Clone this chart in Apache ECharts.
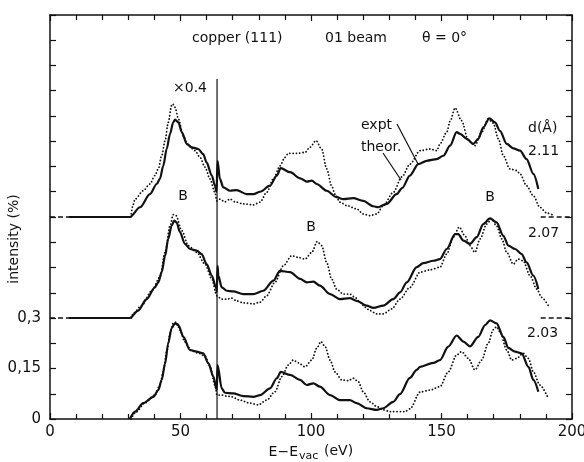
<!DOCTYPE html>
<html>
<head>
<meta charset="utf-8">
<script src="https://cdn.jsdelivr.net/npm/echarts@6/dist/echarts.min.js"></script>
<style>
	html, body { margin: 0; padding: 0; background: #fff; }
	#chart { width: 584px; height: 462px; }
</style>
</head>
<body>
<div id="chart"></div>
<script>
// d (Å) of each curve pair and the vertical offset it is drawn at
var spacings = ['2.11', '2.07', '2.03'];
var offsets = [0.6, 0.3, 0];

// [E - Evac (eV), intensity (%)] relative to the own baseline
var expt211 = [[7,0],[30.6,0],[34.5,0.029],[38.3,0.068],[40.9,0.098],[42.1,0.113],[43.4,0.152],[44.7,0.202],[46,0.247],[47.2,0.281],[47.9,0.289],[49.2,0.281],[50.5,0.252],[52.4,0.217],[54.3,0.207],[56.8,0.202],[58.7,0.187],[60,0.162],[62,0.123],[63.2,0.093],[63.8,0.075],[64.2,0.167],[65.1,0.113],[66.4,0.088],[69,0.078],[71.5,0.08],[75.4,0.068],[77.9,0.068],[80.5,0.075],[84.3,0.093],[86.9,0.123],[88.4,0.145],[92,0.133],[95.8,0.115],[98.4,0.105],[100.3,0.108],[102.2,0.098],[106,0.078],[109.8,0.059],[112.4,0.053],[116.2,0.056],[120,0.048],[123.9,0.032],[125.7,0.029],[129,0.039],[132.8,0.068],[134.9,0.086],[137.9,0.123],[141.1,0.157],[144.3,0.167],[148.2,0.172],[150.7,0.182],[153.3,0.212],[155.8,0.252],[157.1,0.247],[159.7,0.232],[162.2,0.217],[164.1,0.232],[166,0.266],[168.3,0.293],[170.5,0.281],[172.4,0.256],[175,0.217],[177.5,0.204],[180.1,0.197],[182.6,0.172],[185.2,0.128],[187.1,0.083]];
var theor211 = [[31,0],[31.8,0.036],[32.6,0.053],[35.7,0.078],[38.3,0.098],[40.2,0.123],[41.5,0.143],[42.8,0.182],[44.1,0.227],[45.3,0.281],[46.6,0.331],[47,0.336],[47.9,0.326],[49.2,0.291],[51.1,0.241],[53,0.212],[55.6,0.197],[57.5,0.177],[59.4,0.148],[61.3,0.113],[63.2,0.073],[63.9,0.048],[65.1,0.053],[67,0.045],[69,0.053],[70.9,0.045],[74.1,0.039],[77.9,0.036],[80.5,0.044],[83,0.073],[85.6,0.113],[88.1,0.152],[90,0.177],[91.3,0.189],[94.5,0.189],[97.7,0.192],[99.6,0.207],[101.9,0.227],[104.1,0.202],[106,0.143],[107.9,0.093],[109.2,0.068],[111.1,0.044],[113.7,0.034],[117.5,0.024],[120,0.009],[122.6,0.004],[125.2,0.009],[127.7,0.034],[131.5,0.073],[134.8,0.119],[137.9,0.157],[141.8,0.197],[145.6,0.202],[148.2,0.197],[149.4,0.217],[152,0.252],[153.3,0.285],[155.2,0.324],[157.7,0.286],[160.3,0.227],[162.8,0.212],[165.4,0.252],[167.9,0.291],[169.8,0.279],[171.8,0.232],[173.7,0.182],[176.2,0.143],[178.8,0.138],[180.1,0.128],[182.6,0.093],[185.2,0.063],[187.7,0.029],[190.3,0.012],[192.7,0.006]];

var expt207 = [[7,0],[30.6,0],[33.8,0.022],[37,0.056],[40.2,0.091],[41.5,0.106],[42.8,0.136],[44.1,0.185],[45.3,0.235],[46.6,0.274],[47.6,0.289],[48.5,0.284],[49.8,0.255],[51.7,0.22],[53.6,0.205],[56.2,0.2],[58.1,0.19],[60,0.16],[62,0.126],[63.6,0.091],[63.9,0.077],[64.2,0.155],[64.5,0.126],[65.8,0.091],[67.7,0.081],[70.2,0.079],[74.1,0.071],[77.9,0.071],[81.7,0.081],[85.6,0.111],[88.1,0.14],[92,0.136],[95.8,0.116],[98.4,0.106],[100.9,0.108],[103.4,0.096],[107.3,0.071],[111.1,0.056],[114.9,0.059],[117.5,0.051],[121.3,0.037],[123.9,0.03],[127.7,0.037],[131.5,0.056],[134.1,0.076],[136.7,0.106],[140.5,0.151],[143,0.163],[146.9,0.17],[149.4,0.175],[152,0.205],[155.2,0.249],[156.4,0.249],[158.4,0.23],[160.9,0.22],[163.5,0.24],[166,0.279],[168.6,0.296],[171.1,0.284],[173.7,0.244],[175.6,0.215],[178.2,0.205],[180.7,0.19],[182.6,0.165],[185.2,0.126],[187.1,0.086]];
var theor207 = [[31.2,0],[32,0.015],[35.1,0.037],[39,0.081],[42.1,0.121],[44.1,0.195],[46,0.274],[47.2,0.307],[48.3,0.304],[50.5,0.259],[53,0.215],[56.2,0.195],[59.4,0.16],[62,0.116],[63.9,0.066],[65.8,0.056],[67.7,0.056],[69.6,0.059],[71.5,0.051],[74.1,0.045],[77.9,0.042],[80.5,0.047],[83,0.066],[86.2,0.106],[89.4,0.155],[92.6,0.185],[95.1,0.18],[97.7,0.175],[100.3,0.195],[102.4,0.227],[104.1,0.215],[106,0.165],[107.9,0.116],[109.8,0.086],[112.4,0.071],[114.9,0.071],[116.9,0.061],[118.8,0.047],[120.7,0.032],[122.6,0.022],[125.2,0.012],[127.7,0.012],[130.9,0.027],[134.1,0.056],[137.9,0.091],[141.8,0.136],[145.6,0.143],[149.4,0.151],[152,0.19],[154.5,0.24],[156.8,0.27],[159,0.244],[160.9,0.215],[162.8,0.195],[164.8,0.235],[167.3,0.279],[169.2,0.294],[171.1,0.274],[173.1,0.235],[175,0.195],[177.5,0.16],[179.4,0.175],[181.3,0.17],[183.9,0.126],[186.5,0.086],[188.4,0.061],[190.9,0.037]];

var expt203 = [[30.6,0],[32.6,0.022],[35.7,0.047],[39.6,0.066],[41.5,0.086],[42.8,0.116],[44.1,0.165],[45.3,0.225],[46.6,0.27],[47.9,0.284],[49.2,0.279],[51.1,0.244],[53.6,0.205],[56.2,0.2],[58.7,0.195],[60.7,0.165],[62.6,0.126],[63.9,0.086],[64.2,0.16],[65.8,0.091],[67,0.078],[70.2,0.076],[74.1,0.068],[77.9,0.066],[80.5,0.071],[84.3,0.091],[86.9,0.121],[88.4,0.14],[92,0.131],[95.8,0.116],[98.4,0.101],[100.9,0.106],[103.4,0.096],[107.3,0.071],[111.1,0.056],[114.9,0.056],[117.5,0.047],[121.3,0.032],[125.2,0.027],[127.7,0.032],[131.5,0.051],[134.1,0.074],[137.9,0.122],[140.5,0.146],[141.8,0.155],[146.9,0.167],[149.4,0.175],[152.6,0.215],[155.8,0.248],[158.4,0.23],[160.9,0.216],[164.1,0.244],[166.7,0.279],[168.6,0.293],[171.1,0.284],[173.7,0.244],[175.6,0.211],[178.2,0.2],[180.7,0.195],[183.3,0.155],[185.2,0.116],[187.1,0.081]];
var theor203 = [[31,0],[33,0.021],[36.4,0.048],[40.2,0.071],[42.1,0.101],[43.4,0.14],[44.7,0.199],[46,0.255],[47.2,0.285],[48.5,0.288],[49.8,0.264],[51.7,0.229],[54.3,0.202],[56.8,0.196],[59.4,0.187],[61.3,0.157],[63.2,0.101],[64,0.071],[65.8,0.071],[67.7,0.068],[69.6,0.066],[72.8,0.056],[76.6,0.047],[79.8,0.042],[83,0.056],[86.2,0.081],[88.8,0.126],[91.3,0.16],[93.2,0.175],[95.1,0.167],[97.7,0.155],[100.3,0.175],[102.2,0.21],[103.8,0.23],[105.4,0.215],[107.3,0.175],[109.2,0.14],[111.8,0.116],[114.3,0.114],[116.2,0.121],[118.1,0.111],[120,0.081],[122.6,0.051],[125.2,0.037],[127.7,0.027],[130.3,0.022],[136,0.022],[137.9,0.03],[141.8,0.08],[145.6,0.086],[149.4,0.096],[152.6,0.14],[155.8,0.19],[157.7,0.2],[160.3,0.18],[162.8,0.146],[165.4,0.175],[167.9,0.225],[169.8,0.265],[171.1,0.274],[172.4,0.259],[175,0.205],[176.9,0.175],[178.8,0.18],[181.3,0.195],[183.3,0.18],[185.2,0.14],[187.7,0.101],[190.9,0.061]];

var exptCurves = [expt211, expt207, expt203];
var theorCurves = [theor211, theor207, theor203];

// dashed baseline stubs at left and right edge, E range
var dashLeft = [0, 7];
var dashRight = [188, 200];
// scale change marker (x0.4 left of it)
var scaleBreakE = 64;
var scaleBreakTop = 1.01;

var yLabels = {'0': '0', '0.15': '0,15', '0.3': '0,3'};

var font = 'DejaVu Sans';
var ink = '#111';

function shift(pts, off){
	return pts.map(function(p){ return [p[0], +(p[1] + off).toFixed(4)]; });
}

var series = [];
spacings.forEach(function(d, i){
	var off = offsets[i];
	series.push({
		name: 'expt ' + d,
		type: 'line',
		data: shift(exptCurves[i], off),
		showSymbol: false,
		smooth: 0.3,
		smoothMonotone: 'x',
		lineStyle: {color: ink, width: 2.2},
		z: 3
	});
	series.push({
		name: 'theor ' + d,
		type: 'line',
		data: shift(theorCurves[i], off),
		showSymbol: false,
		smooth: 0.3,
		smoothMonotone: 'x',
		lineStyle: {color: ink, width: 1.8, type: [0.1, 3.2], cap: 'round'},
		z: 2
	});
	if(off > 0){
		series.push({
			name: 'base ' + d,
			type: 'line',
			data: [[dashLeft[0], off], [dashLeft[1], off], [null, null], [dashRight[0], off], [dashRight[1], off]],
			connectNulls: false,
			showSymbol: false,
			lineStyle: {color: ink, width: 1.3, type: [5, 3]}
		});
	}
});
series.push({
	name: 'x0.4',
	type: 'line',
	data: [[scaleBreakE, 0], [scaleBreakE, scaleBreakTop]],
	showSymbol: false,
	lineStyle: {color: ink, width: 1.2}
});

var tickStyle = {color: ink, width: 1.2};
var frameLine = {show: true, onZero: false, lineStyle: {color: ink, width: 1.5}};

function xAx(pos, labels){
	return {
		type: 'value', position: pos, min: 0, max: 200, interval: 50,
		axisLine: frameLine,
		axisTick: {show: true, inside: true, length: 6, lineStyle: tickStyle},
		minorTick: {show: true, splitNumber: 5, length: 5, lineStyle: tickStyle},
		axisLabel: labels ? {color: ink, fontFamily: font, fontSize: 15, margin: 6} : {show: false},
		splitLine: {show: false}
	};
}
function yAx(pos, labels){
	return {
		type: 'value', position: pos, min: 0, max: 1.2, interval: 0.15,
		axisLine: frameLine,
		axisTick: {show: true, inside: true, length: 6, lineStyle: tickStyle},
		minorTick: {show: true, splitNumber: 2, length: 6, lineStyle: tickStyle},
		axisLabel: labels ? {
			color: ink, fontFamily: font, fontSize: 15, margin: 9,
			formatter: function(v){ return yLabels[String(+v.toFixed(3))] || ''; }
		} : {show: false},
		splitLine: {show: false}
	};
}

var option = {
	backgroundColor: '#fff',
	animation: false,
	grid: {left: 50, right: 12, top: 15, bottom: 43, containLabel: false, outerBoundsMode: 'none'},
	xAxis: [xAx('bottom', true), xAx('top', false)],
	yAxis: [yAx('left', true), yAx('right', false)],
	graphic: [
		{type: 'text', x: 192, y: 38, style: {text: 'copper (111)', font: '14px ' + font, fill: ink, verticalAlign: 'middle'}},
		{type: 'text', x: 325, y: 38, style: {text: '01 beam', font: '14px ' + font, fill: ink, verticalAlign: 'middle'}},
		{type: 'text', x: 422, y: 38, style: {text: 'θ = 0°', font: '14px ' + font, fill: ink, verticalAlign: 'middle'}},
		{type: 'text', x: 173, y: 88, style: {text: '×0.4', font: '14px ' + font, fill: ink, verticalAlign: 'middle'}},
		{type: 'text', x: 361, y: 125, style: {text: 'expt', font: '14px ' + font, fill: ink, verticalAlign: 'middle'}},
		{type: 'text', x: 361, y: 147, style: {text: 'theor.', font: '14px ' + font, fill: ink, verticalAlign: 'middle'}},
		{type: 'line', shape: {x1: 397, y1: 124, x2: 418, y2: 164}, style: {stroke: ink, lineWidth: 1.2}},
		{type: 'line', shape: {x1: 383, y1: 153, x2: 401, y2: 180}, style: {stroke: ink, lineWidth: 1.2}},
		{type: 'text', x: 528, y: 128, style: {text: 'd(Å)', font: '14px ' + font, fill: ink, verticalAlign: 'middle'}},
		{type: 'text', x: 528, y: 151, style: {text: spacings[0], font: '14px ' + font, fill: ink, verticalAlign: 'middle'}},
		{type: 'text', x: 528, y: 233, style: {text: spacings[1], font: '14px ' + font, fill: ink, verticalAlign: 'middle'}},
		{type: 'text', x: 527, y: 333, style: {text: spacings[2], font: '14px ' + font, fill: ink, verticalAlign: 'middle'}},
		{type: 'text', x: 183, y: 196, style: {text: 'B', font: '14px ' + font, fill: ink, align: 'center', verticalAlign: 'middle'}},
		{type: 'text', x: 311, y: 227, style: {text: 'B', font: '14px ' + font, fill: ink, align: 'center', verticalAlign: 'middle'}},
		{type: 'text', x: 490, y: 197, style: {text: 'B', font: '14px ' + font, fill: ink, align: 'center', verticalAlign: 'middle'}},
		{type: 'text', x: 14, y: 239, rotation: Math.PI / 2, style: {text: 'intensity (%)', font: '14px ' + font, fill: ink, align: 'center', verticalAlign: 'middle'}},
		{type: 'text', x: 298, y: 452, style: {text: 'E−E', font: '14px ' + font, fill: ink, align: 'right', verticalAlign: 'middle'}},
		{type: 'text', x: 299, y: 456, style: {text: 'vac', font: '11px ' + font, fill: ink, verticalAlign: 'middle'}},
		{type: 'text', x: 324, y: 451, style: {text: '(eV)', font: '14px ' + font, fill: ink, verticalAlign: 'middle'}}
	],
	series: series
};

var chart = echarts.init(document.getElementById('chart'), null, {renderer: 'canvas'});
chart.setOption(option);
</script>
</body>
</html>
